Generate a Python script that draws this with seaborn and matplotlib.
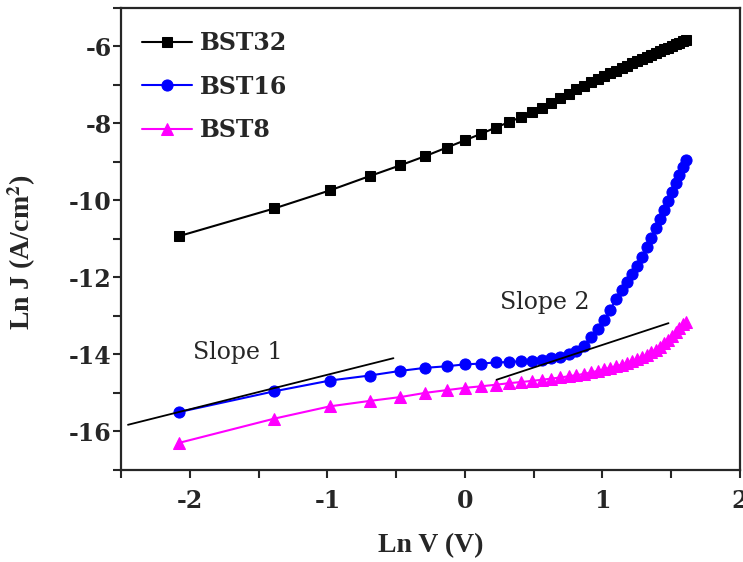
import numpy as np
import seaborn as sns
import matplotlib.pyplot as plt
from matplotlib.ticker import MultipleLocator

# applied voltages (V), plotted as ln V
volts = [0.125, 0.25, 0.375, 0.5, 0.625, 0.75, 0.875, 1.0, 1.125, 1.25,
         1.375, 1.5, 1.625, 1.75, 1.875, 2.0, 2.125, 2.25, 2.375, 2.5,
         2.625, 2.75, 2.875, 3.0, 3.125, 3.25, 3.375, 3.5, 3.625, 3.75,
         3.875, 4.0, 4.125, 4.25, 4.375, 4.5, 4.625, 4.75, 4.875, 5.0]

bst32 = [-10.93, -10.21, -9.74, -9.37, -9.09, -8.85, -8.63, -8.44, -8.27, -8.11,
         -7.97, -7.84, -7.71, -7.59, -7.47, -7.35, -7.23, -7.12, -7.02, -6.93,
         -6.85, -6.77, -6.70, -6.63, -6.56, -6.50, -6.44, -6.38, -6.32, -6.27,
         -6.22, -6.17, -6.12, -6.07, -6.03, -5.99, -5.95, -5.91, -5.87, -5.83]

bst16 = [-15.50, -14.96, -14.68, -14.55, -14.43, -14.35, -14.31, -14.26, -14.24, -14.21,
         -14.20, -14.18, -14.16, -14.14, -14.10, -14.06, -14.00, -13.92, -13.78, -13.55,
         -13.33, -13.12, -12.85, -12.56, -12.32, -12.12, -11.92, -11.70, -11.48, -11.22,
         -10.97, -10.72, -10.48, -10.25, -10.02, -9.78, -9.55, -9.33, -9.13, -8.96]

bst8 = [-16.30, -15.67, -15.35, -15.21, -15.11, -15.00, -14.93, -14.87, -14.83, -14.79,
        -14.75, -14.72, -14.69, -14.66, -14.63, -14.60, -14.57, -14.54, -14.51, -14.47,
        -14.43, -14.39, -14.35, -14.31, -14.27, -14.22, -14.17, -14.12, -14.07, -14.01,
        -13.95, -13.88, -13.80, -13.71, -13.62, -13.52, -13.42, -13.32, -13.22, -13.15]

# guide lines for the two slopes
slope1_x = [-2.45, -0.52]
slope1_y = [-15.83, -14.10]
slope2_x = [0.23, 1.48]
slope2_y = [-14.66, -13.19]

lnv = np.log(volts)

sns.set_style("ticks")
plt.rcParams['font.family'] = ['DejaVu Serif', 'Liberation Serif']
plt.rcParams['axes.unicode_minus'] = False
plt.rcParams['mathtext.fontset'] = 'stix'

fig = plt.figure(figsize=(7.43, 5.62), dpi=100)
ax = fig.add_axes([0.163, 0.164, 0.833, 0.822])

sns.lineplot(x=lnv, y=bst32, ax=ax, color='black', marker='s', markersize=6.5,
             markeredgecolor='black', linewidth=1.5, label='BST32')
sns.lineplot(x=lnv, y=bst16, ax=ax, color='#0000ff', marker='o', markersize=8,
             markeredgecolor='#0000ff', linewidth=1.5, label='BST16')
sns.lineplot(x=lnv, y=bst8, ax=ax, color='#ff00ff', marker='^', markersize=8,
             markeredgecolor='#ff00ff', linewidth=1.5, label='BST8')

ax.plot(slope1_x, slope1_y, color='black', linewidth=1.3)
ax.plot(slope2_x, slope2_y, color='black', linewidth=1.3)
ax.text(-1.65, -13.96, 'Slope 1', fontsize=17, ha='center', va='center')
ax.text(0.58, -12.65, 'Slope 2', fontsize=17, ha='center', va='center')

ax.set_xlim(-2.5, 2)
ax.set_ylim(-17, -5)
ax.xaxis.set_major_locator(MultipleLocator(1))
ax.xaxis.set_minor_locator(MultipleLocator(0.5))
ax.set_yticks([-16, -14, -12, -10, -8, -6])
ax.yaxis.set_minor_locator(MultipleLocator(1))
ax.tick_params(which='both', direction='out', length=5.8, width=1.5)
ax.tick_params(axis='x', which='major', labelsize=17, pad=8)
ax.tick_params(axis='y', which='major', labelsize=17, pad=1)
for lab in ax.get_xticklabels() + ax.get_yticklabels():
    lab.set_fontweight('bold')
for s in ax.spines.values():
    s.set_linewidth(1.6)
    s.set_visible(True)

ax.set_xlabel('Ln V (V)', fontsize=20, fontweight='bold', family='Liberation Serif')
ax.set_ylabel('Ln J (A/cm$^\\mathbf{2}$)', fontsize=20, fontweight='bold',
              family='Liberation Serif')
ax.xaxis.set_label_coords(0.5, -0.136)
ax.yaxis.set_label_coords(-0.135, 0.472)

ax.legend(loc='upper left', bbox_to_anchor=(0.019, 0.970), frameon=False,
          prop={'size': 17, 'weight': 'bold'}, handlelength=2.1,
          handletextpad=0.33, labelspacing=0.82, borderpad=0.4,
          borderaxespad=0.0)

fig.savefig('out.png', dpi=100)
